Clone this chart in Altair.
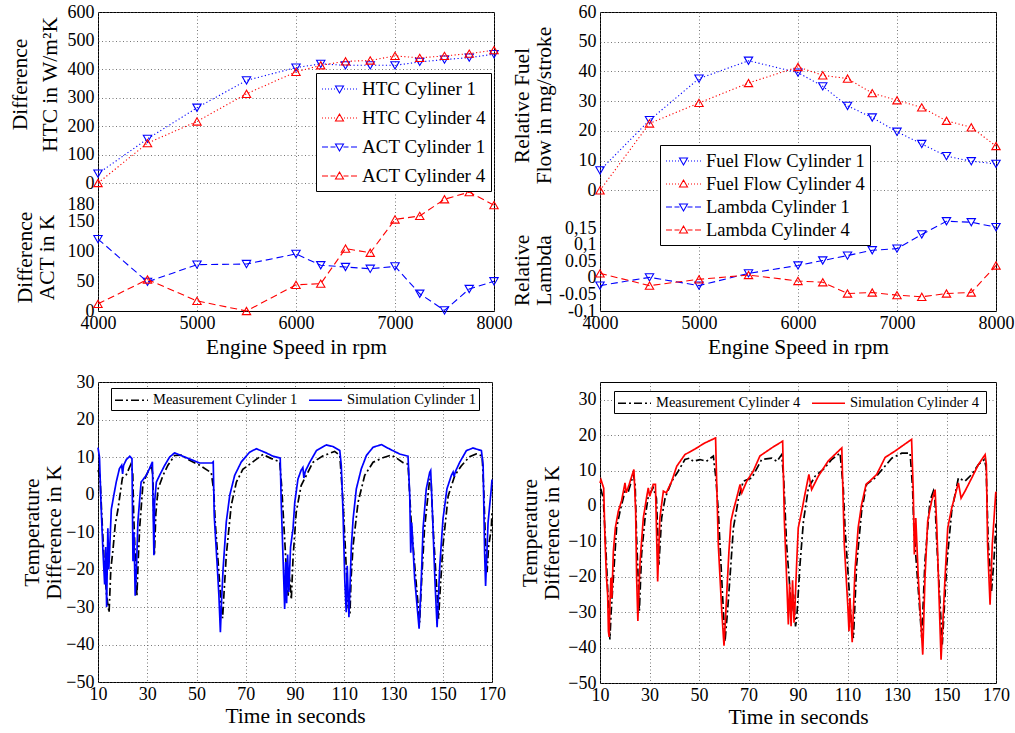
import altair as alt
import pandas as pd

FONT = "Liberation Serif"
BLUE = "#0000ff"
RED = "#ff0000"
DOT = [1.2, 2.4]
DASH = [7, 4]
DASHDOT = [8, 3, 2, 3]

# ---------------- data ----------------
rpm = [4000, 4500, 5000, 5500, 6000, 6250, 6500, 6750, 7000, 7250, 7500, 7750, 8000]
rpm_ticks = [4000, 5000, 6000, 7000, 8000]

htc_cyl1 = [33, 155, 264, 360, 405, 418, 413, 413, 413, 425, 433, 440, 452]
htc_cyl4 = [0, 140, 216, 313, 390, 413, 427, 430, 446, 439, 446, 454, 466]
act_cyl1 = [121, 49, 78, 79, 96, 77, 74, 71, 75, 29, 1, 37, 50]
act_cyl4 = [12, 53, 17, 0, 44, 46, 105, 98, 154, 160, 188, 200, 178]

fuel_cyl1 = [6.7, 23.6, 37.6, 43.6, 39.6, 35.0, 28.4, 24.5, 19.7, 15.6, 11.5, 9.8, 8.9]
fuel_cyl4 = [0, 22.5, 29.4, 36.1, 41.5, 38.7, 37.6, 32.7, 30.3, 27.9, 23.4, 21.2, 14.9]
lambda_cyl1 = [-0.023, 0.002, -0.023, 0.014, 0.038, 0.053, 0.068, 0.084, 0.089, 0.132, 0.172, 0.169, 0.154]
lambda_cyl4 = [0.014, -0.023, -0.004, 0.009, -0.009, -0.013, -0.047, -0.044, -0.052, -0.057, -0.047, -0.044, 0.038]

htc_ticks = [0, 100, 200, 300, 400, 500, 600]
act_ticks = [0, 50, 100, 150, 180]
fuel_ticks = [0, 10, 20, 30, 40, 50, 60]
lambda_ticks = [-0.1, -0.05, 0, 0.05, 0.1, 0.15]
lambda_tick_labels = ["-0,1", "-0.05", "0", "0.05", "0,1", "0,15"]

legend_tl = ["HTC Cyliner 1", "HTC Cylinder 4", "ACT Cylinder 1", "ACT Cylinder 4"]
legend_tr = ["Fuel Flow Cylinder 1", "Fuel Flow Cylinder 4", "Lambda Cylinder 1", "Lambda Cylinder 4"]

time_ticks = [10, 30, 50, 70, 90, 110, 130, 150, 170]
temp_ticks = [-50, -40, -30, -20, -10, 0, 10, 20, 30]

sim1 = [(10, 12.5), (10.6, 10), (11.2, -2), (12, -15), (12.7, -24), (13.1, -14), (13.5, -30), (14, -9), (14.4, -20),
        (15.4, -4), (16.2, -1), (17.4, 3.3), (18.7, 6.9), (19.6, 7.8), (20.0, 5.5), (20.4, 7.8), (21.5, 9.3),
        (22.9, 10.2), (23.8, 9.6), (24.2, -17.8), (24.6, -10), (25.1, -27), (25.6, -20), (26.2, -7.3), (27.5, 3.3),
        (29.6, 5.1), (30.9, 6.9), (32.1, 8.7), (32.4, -4.7), (32.7, -16.2), (33.0, -2), (33.7, 3.3), (35.0, 5.1),
        (37.1, 7.8), (39.1, 10), (41.1, 11.1), (44.5, 10.2), (48.6, 9.1), (51.3, 8.4), (56.3, 8.4), (56.8, 8.7),
        (57.2, -5.6), (58.5, -20), (59.1, -27), (59.7, -36.7), (60.2, -28), (60.8, -19.8), (62.1, -7.3),
        (63.5, -0.2), (65.5, 5.1), (68.2, 8.7), (71.6, 11.3), (74.3, 12.2), (78.3, 11.1), (81.1, 10.2), (84.0, 9.7),
        (84.4, -2), (85.3, -20), (85.8, -30.5), (86.2, -18), (86.6, -29), (87.0, -16), (87.5, -26), (88.2, -14),
        (89.2, -9.1), (89.9, -2.1), (91.2, 4.1), (92.5, 6.5), (93.2, 7.2), (93.6, 4.4), (94.2, 6.2), (96, 8.6),
        (98.7, 11.7), (102.7, 13.2), (105.4, 12.8), (108.2, 11.7), (108.8, 7.7), (109.5, -4.7), (110.2, -22.5),
        (110.8, -31.4), (111.2, -19), (111.9, -32.7), (112.9, -13.6), (113.6, -6.5), (114.9, 1.5), (116.9, 6.8),
        (119.0, 10.4), (121.7, 12.6), (125.1, 13.3), (128.5, 12.1), (132.5, 10.8), (135.9, 10.2), (136.6, -0.4),
        (137.0, -15.5), (137.4, -7.5), (138.6, -22.5), (140.4, -35.8), (141.3, -22.5), (142.0, -9.1), (143.3, 1.5),
        (144.7, 5.9), (145.1, 6.4), (145.8, -4.7), (146.8, -22.5), (147.7, -35.4), (148.8, -19), (150.1, -6.5),
        (151.7, 1.5), (153.5, 5.1), (154.2, 6), (154.6, 4.8), (155.2, 6.2), (156.9, 8.6), (159.6, 11.7),
        (162.3, 12.4), (165.7, 11.7), (166.4, 7.7), (167.0, -15.5), (167.4, -24.4), (168.4, -7.5), (169.7, 1.5),
        (170, 4)]

meas1 = [(10, 6.5), (10.8, 5), (11.5, -5), (12.5, -18), (13.5, -27), (14.5, -31.5), (15.2, -20), (16.1, -14.6),
         (17, -8), (18.1, -4), (19.9, 4.4), (21.5, 5.3), (23.3, 8), (24.1, 6), (24.5, -5.6), (25.3, -20), (25.8, -27),
         (26.3, -18), (26.9, -9.1), (28.2, 2.4), (29.6, 5.1), (31.7, 7.8), (32.3, 5), (32.9, -16.2), (33.5, -5),
         (34.4, 1.5), (36.4, 5.1), (38.4, 7.8), (41.1, 10.4), (43.8, 10.5), (47.2, 9.1), (51.3, 7.8), (56.0, 5.8),
         (57.0, 1), (57.6, -7.3), (59, -20), (60.1, -30.4), (60.6, -33), (61.2, -26), (62.1, -16.2), (64.1, -2.9),
         (66.2, 3.3), (68.8, 6.7), (72.9, 8.7), (77, 10.7), (80, 9.7), (83.8, 8.7), (84.6, 2), (85.4, -7.3),
         (86.5, -20), (87.2, -27), (87.8, -22), (88.5, -28), (89.2, -17), (90.5, -4.7), (92.5, 2.4), (94.6, 5.1),
         (97.3, 8.6), (101.4, 10.3), (103.4, 10.8), (106.1, 11.5), (108.2, 10.4), (109.5, -2.1), (110.5, -15),
         (111.5, -29.6), (112.3, -32), (112.8, -22), (113.6, -13.6), (115.6, -2.1), (118.3, 5.1), (121.7, 8.6),
         (125.7, 9.8), (129.1, 10.5), (131, 9.8), (133.9, 8.5), (135.9, 8.1), (137.2, -7.5), (139, -22),
         (140.6, -34.1), (141.5, -22), (142.6, -9.1), (144.7, 4.2), (145.3, 3), (146.1, -9.1), (148.3, -33.1),
         (149, -25), (150.1, -13.6), (152.2, -0.4), (154.9, 5.1), (157.5, 7.6), (160.9, 10.1), (163.6, 10.8),
         (166, 10.3), (166.6, 2), (167.4, -13.6), (168, -20.7), (168.6, -14), (169.7, -9.1), (170, -5)]

sim4 = [(10, 6.5), (10.4, 7.4), (11.5, 5.0), (12, -9.1), (12.6, -20), (13.1, -25.1), (13.4, -35.4), (13.7, -37),
        (14.0, -28), (14.4, -20.3), (14.8, -26), (15.4, -12.8), (16.2, -6.2), (17.4, -1.5), (18.7, 1.4), (20.1, 6.5),
        (20.6, 3.7), (21.8, 6.1), (23.7, 10.3), (24.4, -1.5), (24.8, -20.3), (25.3, -32.5), (25.7, -24),
        (26.2, -15.6), (27.5, -3.4), (28.9, 2.7), (29.5, 5.1), (30.1, 2.7), (31.5, 6.1), (32.4, 6.1), (32.9, -9.1),
        (33.3, -21.3), (34.2, -3.4), (35.6, 4.2), (36.8, 3.7), (39.0, 7.0), (41.0, 11.2), (44.3, 14.5),
        (48.4, 16.1), (52.4, 17.8), (56.7, 19.2), (57.1, 7.9), (57.8, -10.9), (59.2, -29.7), (60.1, -39.5),
        (60.6, -33), (61.2, -25), (62.1, -12.8), (62.9, -4.3), (63.8, -1.5), (65.2, 2.2), (66.6, 6.1), (67.3, 3.7),
        (69.3, 7.0), (71.9, 9.8), (74.6, 14.1), (79.4, 16.4), (83.8, 18.3), (84.5, -4.3), (85.4, -20.3),
        (86.1, -33.5), (86.6, -22), (87.2, -34), (87.8, -21), (88.4, -33), (88.8, -28), (89.5, -15.6), (90.1, -6.2),
        (91.5, -1.5), (92.8, 3.3), (94.4, 8.9), (95.5, 4.6), (98.2, 8.4), (102.2, 12.7), (107.7, 16.4),
        (108.7, -10.9), (110.1, -27.9), (110.6, -35.4), (111.0, -26), (111.9, -38.5), (113.0, -18.4), (114.3, -6.2),
        (115.7, 0.4), (117.5, 6.1), (119, 7.0), (121.8, 8.9), (125.2, 13.7), (129.2, 15.5), (135.9, 18.8),
        (136.6, 3.3), (137, -13.7), (137.6, -3.4), (138.6, -20.3), (140.4, -42), (141.3, -20.3), (142.4, -4.3),
        (144, 1.4), (145.4, 4.6), (146.1, -6.2), (147.8, -43.4), (149.4, -20.3), (150.5, -6.2), (152.1, -0.6),
        (154.8, 6.5), (155.9, 2.2), (157.5, 4.2), (160.2, 7.9), (162.9, 11.7), (165.6, 14.5), (166.1, 11.7),
        (166.6, -10.9), (167.6, -27.9), (168.5, -10.9), (169.9, 3.7), (170, 4)]

meas4 = [(10, 4.5), (10.4, 4.6), (11.3, 2.2), (12.3, -10.9), (13.2, -25), (14.0, -37.7), (14.5, -30), (15.4, -20.3),
         (16.7, -6.2), (18.1, -1.5), (20.1, 4.2), (21.5, 4.2), (23.5, 8.9), (24.2, 6), (24.8, -9.1), (25.9, -29.7),
         (26.8, -13.7), (28.2, -3.4), (29.5, 2.7), (31.5, 5.1), (32.8, 2.2), (33.8, -16.6), (34.9, -3.4),
         (36.3, 2.2), (39, 7), (41.6, 9.8), (44.3, 13.1), (46.3, 13.5), (47.6, 12.6), (50.4, 13.1), (53, 12.6),
         (55.8, 14.1), (56.8, 8), (57.8, -1.5), (59.5, -25), (60.5, -38.3), (61.5, -30), (62.5, -20.3),
         (63.9, -6.2), (65.9, 1.9), (67.9, 7), (71.3, 7.9), (75.3, 13.1), (79.4, 13.5), (81.5, 12.6), (83.4, 14.5),
         (84.2, 8), (85.4, -10.9), (87.4, -29.7), (88.2, -25), (89, -34), (89.5, -31.6), (90.8, -16.6),
         (92.2, -4.3), (94.2, 5.1), (96.9, 8.4), (100.2, 10.3), (103.6, 13.1), (107, 14.9), (108.3, 5), (109, -6.2),
         (111.7, -34.5), (112.4, -37.3), (113.7, -16.6), (115.7, -1.5), (117.7, 6.1), (121.1, 7.9), (124.5, 10.7),
         (127.9, 13.5), (131.9, 14.9), (135.3, 14.9), (136.3, 5), (136.8, -6.2), (140, -37.3), (141.3, -15.6),
         (143.3, 1.4), (144.7, 4.2), (145.3, 2), (146.1, -10.9), (148.3, -39.1), (150.1, -16.6), (152.1, -1.5),
         (154.8, 7.9), (157.5, 7.0), (160.2, 8.9), (162.9, 11.7), (165.3, 13.1), (166, 11), (166.9, -10.9),
         (168.2, -24), (169.2, -15), (170, -5)]

legend_bl = ["Measurement Cylinder 1", "Simulation Cylinder 1"]
legend_br = ["Measurement Cylinder 4", "Simulation  Cylinder 4"]

# ---------------- helpers ----------------
TITLE_FS = 21.5
TICK_FS = 18


def seg(a, b):
    return f"M{a},0H{b}"


def legend_path(kind, tri):
    if kind == "dot":
        xs = [-1.0, -0.7, -0.4, -0.1, 0.2, 1.2, 1.5, 1.8, 2.1, 2.4]
        line = "".join(seg(x, round(x + 0.1, 2)) for x in xs)
    else:
        line = seg(-1.0, -0.4) + seg(-0.15, 0.35) + seg(1.15, 1.65) + seg(1.9, 2.5)
    if tri == "down":
        t = "M0.35,-0.3L1.15,-0.3L0.75,0.4Z"
    else:
        t = "M0.35,0.3L1.15,0.3L0.75,-0.4Z"
    return line + t


def yaxis(values, title, tx, ty, lh, label_expr=None):
    kw = dict(values=values, title=title, orient="left", titleX=tx, titleY=ty, titleAngle=270,
              titleAlign="center", titleBaseline="bottom", titleLineHeight=lh, titleFontSize=TITLE_FS,
              labelFontSize=TICK_FS, labelPadding=4, labelOverlap=False, labelFlush=False)
    if label_expr:
        kw["labelExpr"] = label_expr
    return alt.Axis(**kw)


def xaxis(values, title, tp):
    return alt.Axis(values=values, title=title, labelFontSize=TICK_FS, titleFontSize=TITLE_FS, labelPadding=3,
                    titlePadding=tp, labelFlush=False, labelOverlap=False, format="d")


def series_layers(xs, ys, color, dash, shape, xenc, yenc):
    df = pd.DataFrame({"x": xs, "y": ys})
    base = alt.Chart(df).encode(x=xenc, y=yenc)
    return [
        base.mark_line(color=color, strokeDash=dash, strokeWidth=1.1),
        base.mark_point(shape=shape, color=color, filled=False, size=70, strokeWidth=1.1, opacity=1),
    ]


def legend_layer(names, colors, paths, lx, ly, fs, rowpad):
    lg = alt.Legend(title=None, orient="none", legendX=lx, legendY=ly, strokeColor="black", fillColor="white",
                    padding=5, labelFontSize=fs, labelColor="black", symbolSize=400, symbolStrokeWidth=1.1,
                    labelOffset=19, rowPadding=rowpad, cornerRadius=0)
    df = pd.DataFrame({"s": names})
    return alt.Chart(df).mark_point(filled=False, strokeWidth=1.1, opacity=1).encode(
        color=alt.Color("s:N", scale=alt.Scale(domain=names, range=colors), legend=lg),
        shape=alt.Shape("s:N", scale=alt.Scale(domain=names, range=paths), legend=lg),
    ).transform_filter("false")


x_rpm = alt.X("x:Q", scale=alt.Scale(domain=[4000, 8000], nice=False, zero=False),
              axis=xaxis(rpm_ticks, "Engine Speed in rpm", 4))

paths4 = [legend_path("dot", "down"), legend_path("dot", "up"), legend_path("dash", "down"), legend_path("dash", "up")]
colors4 = [BLUE, RED, BLUE, RED]

# ---------------- top-left ----------------
y_htc = alt.Y("y:Q", scale=alt.Scale(domain=[-449, 600], nice=False, zero=False),
              axis=yaxis(htc_ticks, ["Difference", "HTC in W/m\u00b2K"], -67, 72, 30))
y_act = alt.Y("y:Q", scale=alt.Scale(domain=[0, 503], nice=False, zero=False),
              axis=yaxis(act_ticks, ["Difference", "ACT in K"], -62, 245, 22))

htc_group = alt.layer(*series_layers(rpm, htc_cyl1, BLUE, DOT, "triangle-down", x_rpm, y_htc),
                      *series_layers(rpm, htc_cyl4, RED, DOT, "triangle-up", x_rpm, y_htc))
act_group = alt.layer(*series_layers(rpm, act_cyl1, BLUE, DASH, "triangle-down", x_rpm, y_act),
                      *series_layers(rpm, act_cyl4, RED, DASH, "triangle-up", x_rpm, y_act))
tl = alt.layer(htc_group, act_group, legend_layer(legend_tl, colors4, paths4, 218, 61, 19, 8)).resolve_scale(
    y="independent").properties(width=396, height=299)

# ---------------- top-right ----------------
lam_expr = " : ".join(f"datum.value == {v} ? '{s}'" for v, s in zip(lambda_ticks, lambda_tick_labels)) + " : ''"
y_fuel = alt.Y("y:Q", scale=alt.Scale(domain=[-40.6, 60], nice=False, zero=False),
               axis=yaxis(fuel_ticks, ["Relative Fuel", "Flow in mg/stroke"], -67, 93, 22))
y_lam = alt.Y("y:Q", scale=alt.Scale(domain=[-0.1, 0.806], nice=False, zero=False),
              axis=yaxis(lambda_ticks, ["Relative", "Lambda"], -67, 258, 22, lam_expr))

fuel_group = alt.layer(*series_layers(rpm, fuel_cyl1, BLUE, DOT, "triangle-down", x_rpm, y_fuel),
                       *series_layers(rpm, fuel_cyl4, RED, DOT, "triangle-up", x_rpm, y_fuel))
lam_group = alt.layer(*series_layers(rpm, lambda_cyl1, BLUE, DASH, "triangle-down", x_rpm, y_lam),
                      *series_layers(rpm, lambda_cyl4, RED, DASH, "triangle-up", x_rpm, y_lam))
tr = alt.layer(fuel_group, lam_group, legend_layer(legend_tr, colors4, paths4, 60, 133, 18.5, 2)).resolve_scale(
    y="independent").properties(width=396, height=299)


# ---------------- bottom ----------------
def time_chart(meas, sim, names, color, ymax, tx, lx, ly, w, h):
    rows = [{"t": t, "v": v, "s": names[0]} for t, v in meas] + [{"t": t, "v": v, "s": names[1]} for t, v in sim]
    df = pd.DataFrame(rows)
    lg = alt.Legend(title=None, orient="none", direction="horizontal", legendX=lx, legendY=ly, strokeColor="black",
                    fillColor="white", padding=3, labelFontSize=14.5, labelColor="black",
                    symbolType="M-1,0H3.125", symbolSize=256, symbolStrokeWidth=1.6, labelOffset=21,
                    columnPadding=7, cornerRadius=0)
    return alt.Chart(df).mark_line(strokeWidth=1.7).encode(
        x=alt.X("t:Q", scale=alt.Scale(domain=[10, 170], nice=False, zero=False),
                axis=xaxis(time_ticks, "Time in seconds", 2)),
        y=alt.Y("v:Q", scale=alt.Scale(domain=[-50, ymax], nice=False, zero=False),
                axis=yaxis(temp_ticks, ["Temperature", "Difference in K"], tx, h / 2, 22)),
        color=alt.Color("s:N", scale=alt.Scale(domain=names, range=["black", color]), legend=lg),
        strokeDash=alt.StrokeDash("s:N", scale=alt.Scale(domain=names, range=[DASHDOT, [1, 0]]), legend=lg),
        detail="s:N",
    ).properties(width=w, height=h)


bl = time_chart(meas1, sim1, legend_bl, BLUE, 30, -55, 13, 6, 394, 300)
br = time_chart(meas4, sim4, legend_br, RED, 35, -59, 14, 9, 396, 301)

chart = alt.concat(tl, tr, bl, br, columns=2, spacing={"row": 71, "column": 106}, bounds="flush").resolve_scale(
    color="independent", shape="independent", strokeDash="independent"
).properties(
    padding={"left": 8, "top": 2, "right": 0, "bottom": 2}, background="white"
).configure(font=FONT).configure_view(
    stroke="black", strokeWidth=1
).configure_axis(
    labelFont=FONT, titleFont=FONT, labelColor="black", titleColor="black", titleFontWeight="normal",
    domain=False, ticks=False, grid=True, gridColor="#555555", gridDash=[1, 2.5], gridWidth=0.8
).configure_legend(labelFont=FONT, labelColor="black")

chart.save("out.html", embed_options={"renderer": "svg", "actions": False})
